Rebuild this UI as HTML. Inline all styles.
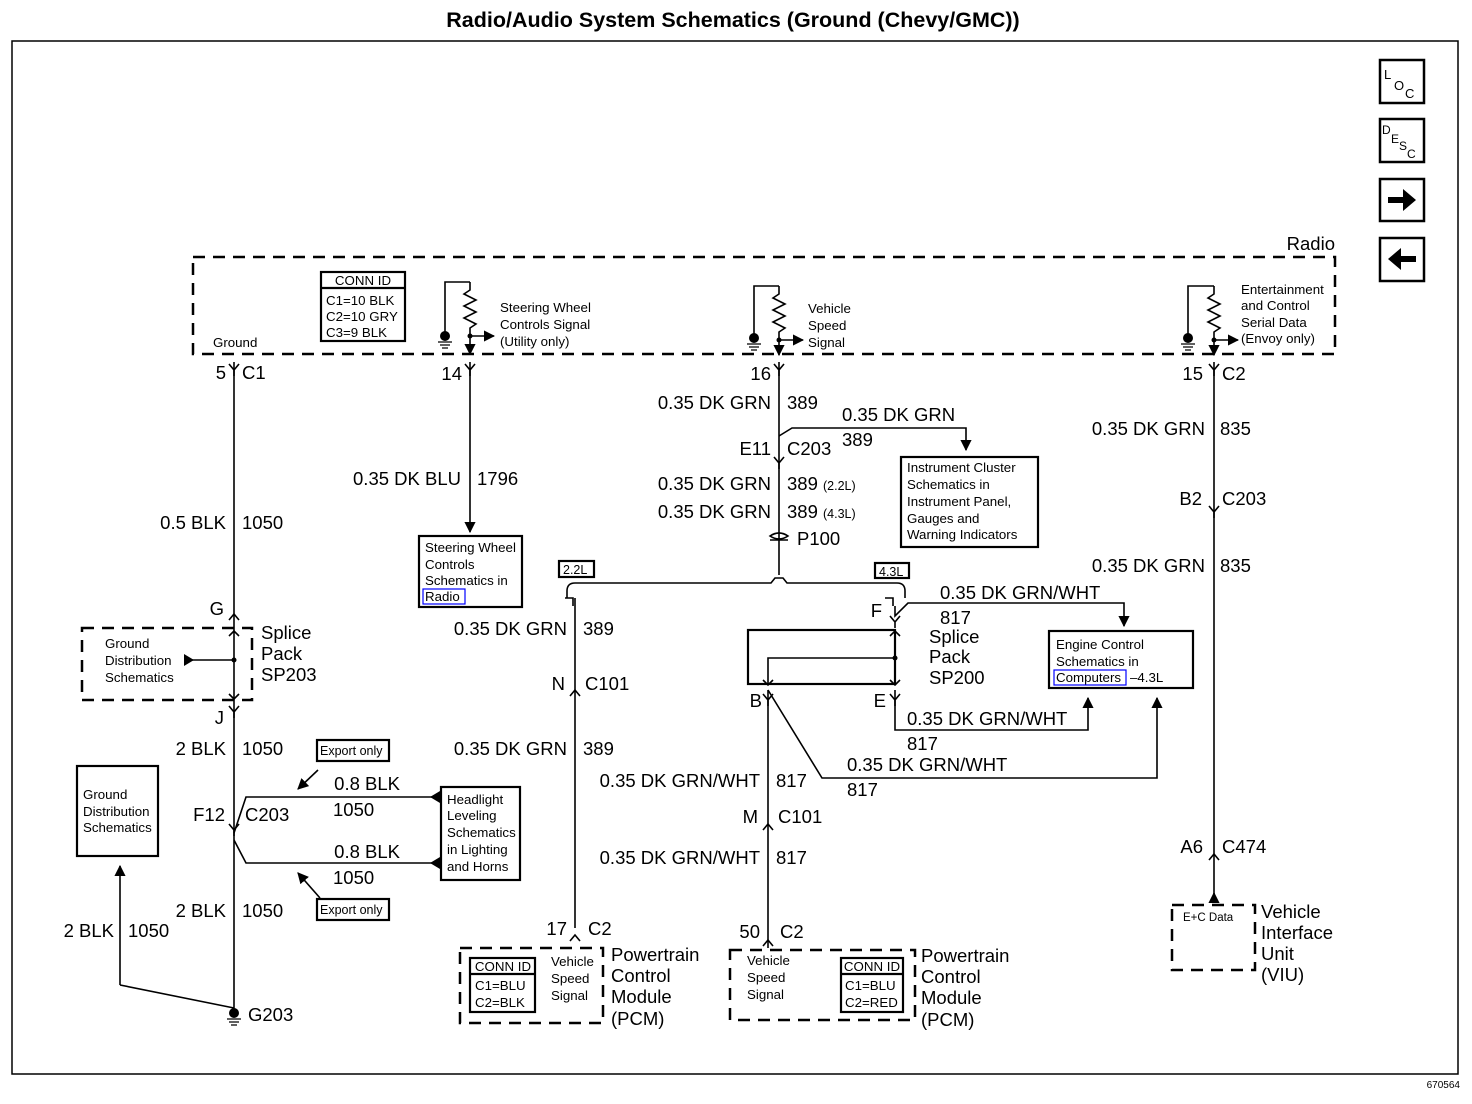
<!DOCTYPE html>
<html><head><meta charset="utf-8"><style>
html,body{margin:0;padding:0;background:#fff}
svg{display:block}
text{font-family:"Liberation Sans",Arial,sans-serif;fill:#000}
.l{font-size:18.5px}
.s{font-size:13.3px}
.b{font-weight:bold}
</style></head><body>
<svg width="1472" height="1104" viewBox="0 0 1472 1104" xmlns="http://www.w3.org/2000/svg">
<defs>
<marker id="ar" viewBox="0 0 10 10" refX="9" refY="5" markerWidth="7" markerHeight="7" orient="auto"><path d="M0,0L10,5L0,10z"/></marker>
<g id="cd"><path d="M-5,-6L0,0L5,-6M0,0V6" fill="none" stroke="#000" stroke-width="1.6"/></g>
<g id="cu"><path d="M-5,6L0,0L5,6" fill="none" stroke="#000" stroke-width="1.6"/></g>
<g id="gnd"><circle cx="0" cy="0" r="5"/><path d="M-7,6H7M-5,9H5M-3,12H3" stroke="#000" stroke-width="1.3"/></g>
<g id="res"><path d="M0,0V8L-6,12L6,18L-6,24L6,30L-6,36L6,42L0,46V54" fill="none" stroke="#000" stroke-width="1.6"/></g>
</defs>
<text x="733" y="27" text-anchor="middle" class="b" font-size="21.5">Radio/Audio System Schematics (Ground (Chevy/GMC))</text>
<rect x="12" y="41" width="1446" height="1033" fill="none" stroke="#000" stroke-width="1.5"/>
<text x="1460" y="1088" text-anchor="end" font-size="10">670564</text>
<g fill="none" stroke="#000" stroke-width="2.5">
<rect x="1380" y="60" width="44" height="43"/><rect x="1380" y="119" width="44" height="43"/><rect x="1380" y="179" width="44" height="42"/><rect x="1380" y="238" width="44" height="43"/></g>
<text x="1384" y="79" font-size="13">L</text><text x="1394" y="90" font-size="13">O</text><text x="1405" y="98" font-size="13">C</text>
<text x="1382" y="134" font-size="12">D</text><text x="1391" y="143" font-size="12">E</text><text x="1399" y="150" font-size="12">S</text><text x="1407" y="158" font-size="12">C</text>
<path d="M1388,197H1403V189L1416,200L1403,211V203H1388z"/>
<path d="M1416,256H1401V248L1388,259L1401,270V262H1416z"/>

<g fill="none" stroke="#000" stroke-width="2.5" stroke-dasharray="12,8">
<rect x="193" y="257" width="1142" height="97"/>
<rect x="82" y="628" width="170" height="72"/>
<rect x="460" y="948" width="143" height="75"/>
<rect x="730" y="950" width="185" height="70"/>
<rect x="1172" y="905" width="83" height="65"/>
</g>
<text x="1335" y="250" text-anchor="end" class="l">Radio</text>

<g fill="none" stroke="#000" stroke-width="2.2">
<rect x="321" y="272" width="84" height="69"/><line x1="321" y1="288" x2="405" y2="288"/>
<rect x="419" y="536" width="103" height="71"/>
<rect x="901" y="457" width="137" height="90"/>
<rect x="1049" y="631" width="144" height="57"/>
<rect x="748" y="630" width="147" height="54"/>
<rect x="77" y="766" width="81" height="90"/>
<rect x="441" y="787" width="79" height="93"/>
<rect x="317" y="740" width="72" height="21"/><rect x="317" y="899" width="72" height="21"/>
<rect x="559" y="561" width="35" height="16"/><rect x="875" y="563" width="34" height="15"/>
<rect x="470" y="958" width="65" height="54"/><line x1="470" y1="974" x2="535" y2="974"/>
<rect x="841" y="958" width="62" height="54"/><line x1="841" y1="974" x2="903" y2="974"/>
</g>
<text x="363" y="285" text-anchor="middle" class="s">CONN ID</text>
<text x="326" y="305" class="s">C1=10 BLK</text><text x="326" y="321" class="s">C2=10 GRY</text><text x="326" y="337" class="s">C3=9 BLK</text>
<text x="213" y="347" class="s">Ground</text>
<text x="500" y="312" class="s">Steering Wheel</text><text x="500" y="329" class="s">Controls Signal</text><text x="500" y="346" class="s">(Utility only)</text>
<text x="808" y="313" class="s">Vehicle</text><text x="808" y="330" class="s">Speed</text><text x="808" y="347" class="s">Signal</text>
<text x="1241" y="294" class="s">Entertainment</text><text x="1241" y="310" class="s">and Control</text><text x="1241" y="327" class="s">Serial Data</text><text x="1241" y="343" class="s">(Envoy only)</text>

<g fill="none" stroke="#000" stroke-width="1.6">
<path d="M445,335V282H470"/><path d="M754,335V286H779"/><path d="M1188,335V286H1214"/>
</g>
<use href="#res" x="470" y="282"/><use href="#res" x="779" y="286"/><use href="#res" x="1214" y="286"/>
<use href="#gnd" x="445" y="336"/><use href="#gnd" x="754" y="338"/><use href="#gnd" x="1188" y="338"/>
<g stroke="#000" stroke-width="1.6" fill="none">
<line x1="470" y1="336" x2="470" y2="354" marker-end="url(#ar)"/>
<line x1="470" y1="336" x2="494" y2="336" marker-end="url(#ar)"/>
<line x1="779" y1="340" x2="779" y2="355" marker-end="url(#ar)"/>
<line x1="779" y1="340" x2="803" y2="340" marker-end="url(#ar)"/>
<line x1="1214" y1="340" x2="1214" y2="355" marker-end="url(#ar)"/>
<line x1="1214" y1="340" x2="1238" y2="340" marker-end="url(#ar)"/>
</g>
<g fill="#000"><circle cx="470" cy="336" r="2.5"/><circle cx="779" cy="340" r="2.5"/><circle cx="1214" cy="340" r="2.5"/></g>

<g fill="none" stroke="#000" stroke-width="1.6">
<line x1="234" y1="362" x2="234" y2="1010"/>
<line x1="470" y1="362" x2="470" y2="532" marker-end="url(#ar)"/>
<line x1="779" y1="362" x2="779" y2="575"/>
<path d="M779,436L792,428H966V450" marker-end="url(#ar)"/>
<path d="M567,598V591Q567,583 575,583H771L775,578L783,578L787,583H897Q905,583 905,591V598"/>
<line x1="575" y1="598" x2="575" y2="928"/>
<path d="M895,606V616L908,603H1124V626" marker-end="url(#ar)"/>
<line x1="895" y1="636" x2="895" y2="680"/>
<path d="M895,658H768V684"/>
<path d="M895,690V730H1088V698" marker-end="url(#ar)"/>
<line x1="768" y1="690" x2="768" y2="948"/>
<path d="M768,690L822,778H1157V698" marker-end="url(#ar)"/>
<line x1="1214" y1="362" x2="1214" y2="903" />
<path d="M1214,895V893" marker-end="url(#ar)"/>
<path d="M184,660H234"/>
<path d="M234,833L246,797H440"/>
<path d="M234,840L246,863H440"/>
<path d="M318,770L298,789" marker-end="url(#ar)"/>
<path d="M320,898L298,873" marker-end="url(#ar)"/>
<path d="M120,985V866" marker-end="url(#ar)"/>
<path d="M120,985L234,1008"/>
</g>
<g fill="#000">
<path d="M184,654L194,660L184,666z"/>
<path d="M440,791L430,797L440,803z"/><path d="M440,857L430,863L440,869z"/>
<circle cx="234" cy="660" r="2.5"/><circle cx="895" cy="658" r="2.5"/>
</g>
<g fill="none" stroke="#000" stroke-width="1.6">
<path d="M229,636L234,631L239,636M229,694L234,699L239,694"/>
<path d="M890,636L895,631L900,636M890,680L895,685L900,680M763,680L768,685L773,680"/>
<path d="M565,598H573V606M885,598H893V606"/>
</g>
<g fill="none" stroke="#000" stroke-width="1.6">
<path d="M770,536Q779,530 788,536Q779,542 770,536z"/><path d="M770,540H788"/>
</g>
<use href="#cd" x="234" y="370"/><use href="#cd" x="470" y="370"/><use href="#cd" x="779" y="370"/><use href="#cd" x="1214" y="370"/>
<use href="#cd" x="779" y="463"/><use href="#cd" x="1214" y="512"/><use href="#cu" x="1214" y="854"/>
<use href="#cu" x="234" y="614"/><use href="#cd" x="234" y="712"/><use href="#cd" x="234" y="830"/>
<use href="#cu" x="575" y="690"/><use href="#cd" x="768" y="700"/><use href="#cu" x="768" y="824"/>
<use href="#cd" x="895" y="700"/><use href="#cd" x="895" y="622"/>
<use href="#cu" x="575" y="935"/><use href="#cu" x="768" y="940"/>
<use href="#gnd" x="234" y="1013"/>

<g class="l">
<text x="226" y="379" text-anchor="end">5</text><text x="242" y="379">C1</text>
<text x="462" y="380" text-anchor="end">14</text>
<text x="771" y="380" text-anchor="end">16</text>
<text x="1203" y="380" text-anchor="end">15</text><text x="1222" y="380">C2</text>
<text x="226" y="529" text-anchor="end">0.5 BLK</text><text x="242" y="529">1050</text>
<text x="224" y="615" text-anchor="end">G</text>
<text x="261" y="639">Splice</text><text x="261" y="660">Pack</text><text x="261" y="681">SP203</text>
<text x="224" y="724" text-anchor="end">J</text>
<text x="226" y="755" text-anchor="end">2 BLK</text><text x="242" y="755">1050</text>
<text x="225" y="821" text-anchor="end">F12</text><text x="245" y="821">C203</text>
<text x="400" y="790" text-anchor="end">0.8 BLK</text><text x="333" y="816">1050</text>
<text x="400" y="858" text-anchor="end">0.8 BLK</text><text x="333" y="884">1050</text>
<text x="226" y="917" text-anchor="end">2 BLK</text><text x="242" y="917">1050</text>
<text x="114" y="937" text-anchor="end">2 BLK</text><text x="128" y="937">1050</text>
<text x="248" y="1021">G203</text>
<text x="461" y="485" text-anchor="end">0.35 DK BLU</text><text x="477" y="485">1796</text>
<text x="771" y="409" text-anchor="end">0.35 DK GRN</text><text x="787" y="409">389</text>
<text x="842" y="421">0.35 DK GRN</text><text x="842" y="446">389</text>
<text x="771" y="455" text-anchor="end">E11</text><text x="787" y="455">C203</text>
<text x="771" y="490" text-anchor="end">0.35 DK GRN</text><text x="787" y="490">389 <tspan font-size="12.5">(2.2L)</tspan></text>
<text x="771" y="518" text-anchor="end">0.35 DK GRN</text><text x="787" y="518">389 <tspan font-size="12.5">(4.3L)</tspan></text>
<text x="797" y="545">P100</text>
<text x="567" y="635" text-anchor="end">0.35 DK GRN</text><text x="583" y="635">389</text>
<text x="565" y="690" text-anchor="end">N</text><text x="585" y="690">C101</text>
<text x="567" y="755" text-anchor="end">0.35 DK GRN</text><text x="583" y="755">389</text>
<text x="567" y="935" text-anchor="end">17</text><text x="588" y="935">C2</text>
<text x="611" y="961">Powertrain</text><text x="611" y="982">Control</text><text x="611" y="1003">Module</text><text x="611" y="1025">(PCM)</text>
<text x="882" y="617" text-anchor="end">F</text>
<text x="940" y="599">0.35 DK GRN/WHT</text><text x="940" y="624">817</text>
<text x="929" y="643">Splice</text><text x="929" y="663">Pack</text><text x="929" y="684">SP200</text>
<text x="762" y="707" text-anchor="end">B</text><text x="886" y="707" text-anchor="end">E</text>
<text x="907" y="725">0.35 DK GRN/WHT</text><text x="907" y="750">817</text>
<text x="847" y="771">0.35 DK GRN/WHT</text><text x="847" y="796">817</text>
<text x="760" y="787" text-anchor="end">0.35 DK GRN/WHT</text><text x="776" y="787">817</text>
<text x="758" y="823" text-anchor="end">M</text><text x="778" y="823">C101</text>
<text x="760" y="864" text-anchor="end">0.35 DK GRN/WHT</text><text x="776" y="864">817</text>
<text x="760" y="938" text-anchor="end">50</text><text x="780" y="938">C2</text>
<text x="921" y="962">Powertrain</text><text x="921" y="983">Control</text><text x="921" y="1004">Module</text><text x="921" y="1026">(PCM)</text>
<text x="1205" y="435" text-anchor="end">0.35 DK GRN</text><text x="1220" y="435">835</text>
<text x="1202" y="505" text-anchor="end">B2</text><text x="1222" y="505">C203</text>
<text x="1205" y="572" text-anchor="end">0.35 DK GRN</text><text x="1220" y="572">835</text>
<text x="1203" y="853" text-anchor="end">A6</text><text x="1222" y="853">C474</text>
<text x="1261" y="918">Vehicle</text><text x="1261" y="939">Interface</text><text x="1261" y="960">Unit</text><text x="1261" y="981">(VIU)</text>
</g>
<g class="s">
<text x="425" y="552">Steering Wheel</text><text x="425" y="569">Controls</text><text x="425" y="585">Schematics in</text>
<text x="425" y="601" fill="#0000c0">Radio</text><rect x="423" y="589" width="42" height="15" fill="none" stroke="#0000ff" stroke-width="1.2"/>
<text x="907" y="472">Instrument Cluster</text><text x="907" y="489">Schematics in</text><text x="907" y="506">Instrument Panel,</text><text x="907" y="523">Gauges and</text><text x="907" y="539">Warning Indicators</text>
<text x="1056" y="649">Engine Control</text><text x="1056" y="666">Schematics in</text>
<text x="1056" y="682">Computers</text><rect x="1054" y="670" width="72" height="15" fill="none" stroke="#0000ff" stroke-width="1.2"/><text x="1130" y="682">–4.3L</text>
<text x="105" y="648">Ground</text><text x="105" y="665">Distribution</text><text x="105" y="682">Schematics</text>
<text x="83" y="799">Ground</text><text x="83" y="816">Distribution</text><text x="83" y="832">Schematics</text>
<text x="447" y="804">Headlight</text><text x="447" y="820">Leveling</text><text x="447" y="837">Schematics</text><text x="447" y="854">in Lighting</text><text x="447" y="871">and Horns</text>
<text x="320" y="755" font-size="12.5">Export only</text><text x="320" y="914" font-size="12.5">Export only</text>
<text x="563" y="574" font-size="12.5">2.2L</text><text x="879" y="576" font-size="12.5">4.3L</text>
<text x="503" y="971" text-anchor="middle">CONN ID</text><text x="475" y="990">C1=BLU</text><text x="475" y="1007">C2=BLK</text>
<text x="551" y="966">Vehicle</text><text x="551" y="983">Speed</text><text x="551" y="1000">Signal</text>
<text x="872" y="971" text-anchor="middle">CONN ID</text><text x="845" y="990">C1=BLU</text><text x="845" y="1007">C2=RED</text>
<text x="747" y="965">Vehicle</text><text x="747" y="982">Speed</text><text x="747" y="999">Signal</text>
<text x="1183" y="921" font-size="11.5">E+C Data</text>
</g>
</svg>
</body></html>
